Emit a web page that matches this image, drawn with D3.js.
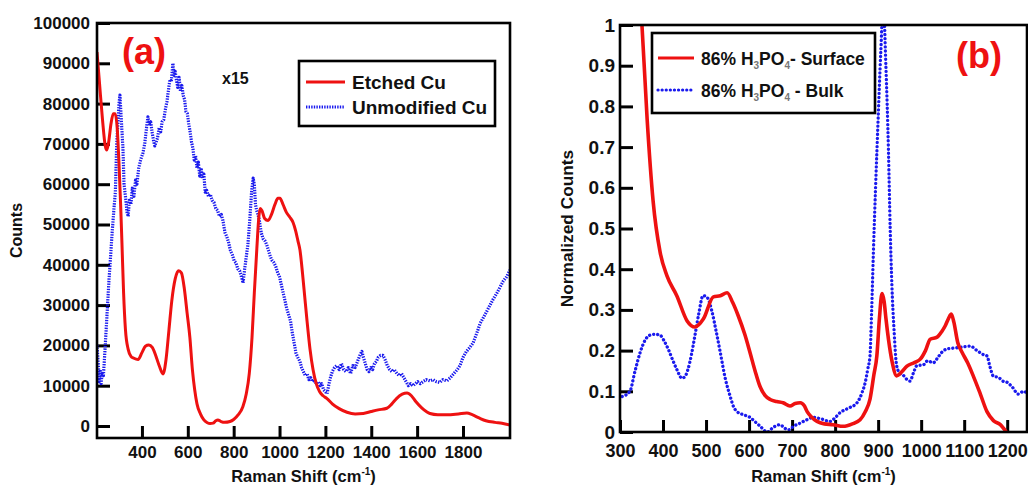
<!DOCTYPE html>
<html lang="en">
<head>
<meta charset="UTF-8">
<title>Raman spectra</title>
<script src="https://cdn.jsdelivr.net/npm/d3@7"></script>
<style>
  body { margin: 0; background: #fff; font-family: "Liberation Sans", Arial, sans-serif; }
  svg text { font-weight: bold; fill: #111; }
  .tick line { stroke: #000; stroke-width: 3; }
  .frame { fill: none; stroke: #000; stroke-width: 2.6; }
</style>
</head>
<body>
<svg id="chart" width="1028" height="487"></svg>
<script>
// panel (a): Raman shift (cm-1) and counts
const etchedX = [204,215,228,240,247,255,265,275,283,292,300,307,313,320,328,340,352,365,383,400,415,430,445,460,475,492,505,518,530,545,560,572,585,597,609,620,630,640,655,670,685,697,710,722,731,745,760,784,800,820,840,855,868,880,890,901,910,916,923,935,950,965,980,993,1002,1015,1030,1045,1059,1070,1080,1089,1100,1110,1120,1133,1146,1160,1175,1190,1207,1230,1260,1294,1330,1365,1400,1430,1468,1490,1510,1535,1556,1575,1595,1620,1640,1656,1690,1730,1780,1817,1840,1870,1900,1940,1970,2005];
const etchedY = [92800,85000,76000,69500,68500,70500,75000,77500,77500,74000,65000,55000,45000,33000,24000,19000,17300,16800,16500,18200,19800,20100,19500,17500,15000,12900,16500,24000,31000,36500,38500,38000,34000,28000,22000,14000,9000,5500,3000,1500,800,600,700,1300,1500,1100,900,1100,1600,2800,4800,8000,13000,22000,33000,44000,52000,54000,53500,51500,51000,52500,55000,56500,56500,55000,53000,51800,50500,48500,46000,43700,38000,32000,26000,19000,14000,10500,8500,7500,6800,5500,4300,3400,3000,3100,3600,4000,4400,5500,6800,7900,8200,7500,6000,4500,3600,3100,2800,2800,3000,3200,2800,2000,1300,900,700,250];

const unmodX = [204,210,214,218,222,226,232,240,248,256,262,270,278,284,290,296,300,304,308,312,317,322,326,330,335,340,345,352,358,365,372,378,386,394,404,412,420,426,432,438,444,450,456,462,468,475,482,488,495,502,509,516,522,528,535,540,545,550,556,562,568,574,580,586,592,598,604,610,616,622,628,634,640,646,652,658,664,670,676,682,690,698,706,714,722,730,738,746,753,762,770,778,786,794,802,810,818,826,834,841,848,855,862,870,878,885,890,895,900,906,912,920,928,936,944,952,960,968,976,984,992,1000,1008,1016,1024,1032,1040,1048,1056,1064,1072,1080,1089,1096,1104,1112,1120,1128,1136,1144,1152,1160,1168,1176,1184,1192,1200,1207,1214,1222,1230,1240,1250,1260,1270,1280,1290,1300,1310,1320,1330,1340,1350,1359,1366,1374,1382,1390,1398,1406,1414,1422,1430,1440,1451,1460,1470,1480,1490,1500,1512,1522,1532,1542,1552,1562,1572,1582,1592,1602,1614,1626,1640,1656,1670,1684,1698,1712,1730,1745,1760,1775,1787,1800,1815,1830,1844,1860,1875,1890,1904,1918,1932,1948,1962,1976,1990,2005];
const unmodY = [20100,15000,11000,14000,10500,13000,12500,20000,28000,36000,41000,48000,54000,58000,70000,76000,80000,82100,78000,74000,69000,60000,58000,56000,53000,52000,56000,55000,59000,57000,61000,60000,64000,66000,67700,70000,74000,76700,75000,75500,73000,71000,69500,70500,71500,74000,73000,75500,76000,78500,80500,83500,86000,85500,90000,87000,88000,86000,84000,86500,83000,84500,82000,81000,78000,77500,75000,73000,70500,69000,66000,67000,64000,65500,62000,64000,61500,62500,58000,58500,57000,57500,56000,55500,54000,53500,52000,52500,51000,48000,47000,45500,43500,42500,41000,40500,39000,38500,37000,35500,39000,42000,45000,51000,58000,61500,60000,55000,53500,52500,51000,48000,46500,46000,45000,43500,42000,41000,40500,39500,38000,37000,35000,33000,31000,29000,27500,26000,23000,20500,18000,17000,16000,14500,13500,12500,13000,11500,12000,11000,11500,10500,11000,10000,10500,9000,8500,8000,10000,12000,13500,14500,15000,14000,15500,14000,13500,14500,13000,15000,14500,16000,17500,18500,17000,15500,14000,13500,14500,14000,15500,16000,17000,17500,17500,16500,15000,14000,13500,14000,13000,12500,13000,12000,11000,10000,10500,10000,10500,11000,10500,11000,11500,11200,11500,11000,10800,11500,11200,12000,13000,14000,15000,17000,18500,19500,20600,23000,25500,27000,28500,30000,31500,33000,34500,36000,37000,38700];

// panel (b): normalized counts
const surfX = [340,351,363,377,393,409,432,456,474,494,517,533,549,562,575,590,602,614,625,637,649,664,679,695,707,719,728,735,745,758,775,795,819,840,858,870,881,890,897,903,909,914,918,924,933,943,955,967,983,998,1010,1021,1037,1048,1056,1064,1070,1076,1085,1095,1108,1121,1137,1153,1168,1184,1198];
const surfY = [1.15,1.0,0.77,0.567,0.443,0.384,0.335,0.273,0.258,0.278,0.332,0.335,0.342,0.318,0.285,0.24,0.196,0.15,0.113,0.09,0.08,0.075,0.072,0.064,0.07,0.072,0.065,0.05,0.037,0.026,0.02,0.018,0.014,0.02,0.03,0.05,0.08,0.14,0.187,0.28,0.34,0.32,0.28,0.228,0.17,0.138,0.148,0.162,0.17,0.179,0.2,0.228,0.233,0.247,0.261,0.28,0.29,0.27,0.22,0.196,0.17,0.138,0.095,0.05,0.028,0.018,0];

const bulkX = [305,323,335,347,358,370,382,393,402,412,422,432,444,452,458,466,474,483,493,503,514,523,533,545,556,564,572,588,602,614,626,642,657,672,682,691,705,719,734,749,768,788,800,812,830,851,862,870,876,881,885,889,894,900,906,912,918,924,928,932,937,943,950,958,966,974,982,990,1005,1015,1028,1040,1050,1060,1075,1091,1105,1114,1130,1145,1153,1160,1168,1180,1190,1200,1212,1226,1238,1246];
const bulkY = [0.087,0.1,0.15,0.196,0.225,0.238,0.24,0.238,0.225,0.204,0.178,0.154,0.132,0.138,0.154,0.19,0.236,0.29,0.335,0.33,0.295,0.25,0.196,0.13,0.088,0.062,0.05,0.042,0.036,0.025,0.014,0.0,0.012,0.018,0.01,0.005,0.015,0.022,0.03,0.036,0.032,0.026,0.035,0.048,0.058,0.072,0.095,0.122,0.155,0.187,0.3,0.443,0.6,0.77,0.93,1.05,0.9,0.69,0.5,0.36,0.25,0.163,0.145,0.14,0.13,0.125,0.145,0.163,0.165,0.175,0.17,0.185,0.198,0.204,0.206,0.208,0.21,0.211,0.2,0.19,0.187,0.16,0.137,0.134,0.125,0.122,0.11,0.093,0.1,0.095];

const ticksA_x = [400,600,800,1000,1200,1400,1600,1800];
const ticksA_y = [0,10000,20000,30000,40000,50000,60000,70000,80000,90000,100000];
const ticksB_x = [300,400,500,600,700,800,900,1000,1100,1200];
const ticksB_y = [0,0.1,0.2,0.3,0.4,0.5,0.6,0.7,0.8,0.9,1];

const svg = d3.select("#chart");
const RED = "#ee1111", BLUE = "#1a1aee";

function panel(o) {
  const x = d3.scaleLinear().domain(o.xdom).range([o.left, o.right]);
  const y = d3.scaleLinear().domain(o.ydom).range([o.bottom, o.top]);
  const g = svg.append("g");

  g.append("clipPath").attr("id", o.id + "clip")
    .append("rect").attr("x", o.left).attr("y", o.top)
    .attr("width", o.right - o.left).attr("height", o.bottom - o.top);

  const xa = g.append("g").attr("transform", `translate(0,${o.bottom})`)
    .call(d3.axisBottom(x).tickValues(o.xticks).tickSizeInner(-12).tickSizeOuter(0)
      .tickPadding(o.xpad).tickFormat(d3.format("d")));
  const ya = g.append("g").attr("transform", `translate(${o.left},0)`)
    .call(d3.axisLeft(y).tickValues(o.yticks).tickSizeInner(-13).tickSizeOuter(0)
      .tickPadding(o.ypad).tickFormat(o.yfmt));
  [xa, ya].forEach(a => {
    a.select(".domain").remove();
    a.selectAll("text").attr("font-size", o.tickFont).attr("fill", "#111");
  });
  xa.selectAll("text").attr("font-size", o.xtickFont);

  const plot = g.append("g").attr("clip-path", `url(#${o.id}clip)`);
  o.series.forEach(s => {
    const pts = s.xs.map((d, i) => [d, s.ys[i]]);
    plot.append("path").datum(pts)
      .attr("fill", "none").attr("stroke", s.color).attr("stroke-width", s.width)
      .attr("stroke-dasharray", s.dash || null).attr("stroke-linecap", s.cap || "butt")
      .attr("stroke-linejoin", "round")
      .attr("d", d3.line().x(d => x(d[0])).y(d => y(d[1])).curve(s.curve));
  });

  g.append("rect").attr("class", "frame").attr("x", o.left).attr("y", o.top)
    .attr("width", o.right - o.left).attr("height", o.bottom - o.top);

  // x title with superscript
  const xt = g.append("text").attr("x", (o.left + o.right) / 2).attr("y", 482)
    .attr("text-anchor", "middle").attr("font-size", 16.5);
  xt.append("tspan").text("Raman Shift (cm");
  xt.append("tspan").attr("font-size", 10).attr("dy", -7).text("-1");
  xt.append("tspan").attr("dy", 7).text(")");

  g.append("text").attr("transform", `translate(${o.ytx},${(o.top + o.bottom) / 2}) rotate(-90)`)
    .attr("text-anchor", "middle").attr("font-size", o.ytFont).text(o.ytitle);

  return { g, x, y };
}

const a = panel({
  id: "a", left: 97, right: 510, top: 23, bottom: 438,
  xdom: [204, 2005], ydom: [-2980, 100000],
  xticks: ticksA_x, yticks: ticksA_y, xpad: 8, ypad: 7,
  yfmt: d3.format("d"), tickFont: 17, xtickFont: 17,
  ytitle: "Counts", ytx: 22, ytFont: 16,
  series: [
    { xs: unmodX, ys: unmodY, color: BLUE, width: 3.2, dash: "1.4 1.2", curve: d3.curveLinear },
    { xs: etchedX, ys: etchedY, color: RED, width: 3, curve: d3.curveMonotoneX }
  ]
});

const b = panel({
  id: "b", left: 620, right: 1027, top: 25, bottom: 432,
  xdom: [300, 1246], ydom: [0, 1],
  xticks: ticksB_x, yticks: ticksB_y, xpad: 12, ypad: 5,
  yfmt: d => d === 0 ? "0" : d === 1 ? "1" : d3.format(".1f")(d), tickFont: 19, xtickFont: 18,
  ytitle: "Normalized Counts", ytx: 573, ytFont: 17.3,
  series: [
    { xs: bulkX, ys: bulkY, color: BLUE, width: 3.3, dash: "0.1 4", cap: "round", curve: d3.curveMonotoneX },
    { xs: surfX, ys: surfY, color: RED, width: 3.6, curve: d3.curveMonotoneX }
  ]
});

// panel labels and notes
a.g.append("text").attr("x", 122).attr("y", 64).attr("font-size", 36).style("fill", RED).text("(a)");
a.g.append("text").attr("x", 222).attr("y", 84).attr("font-size", 16).text("x15");
b.g.append("text").attr("x", 956).attr("y", 68).attr("font-size", 36).style("fill", RED).text("(b)");

// legend (a)
const la = a.g.append("g");
la.append("rect").attr("class", "frame").attr("x", 299).attr("y", 61).attr("width", 196).attr("height", 65);
[["Etched Cu", RED, null, 82], ["Unmodified Cu", BLUE, "1.4 1.2", 107]].forEach(([t, c, dash, yy]) => {
  la.append("line").attr("x1", 306).attr("x2", 345).attr("y1", yy).attr("y2", yy)
    .attr("stroke", c).attr("stroke-width", 3).attr("stroke-dasharray", dash);
  la.append("text").attr("x", 352).attr("y", yy + 6.5).attr("font-size", 19).text(t);
});

// legend (b)
const lb = b.g.append("g");
lb.append("rect").attr("class", "frame").attr("x", 652).attr("y", 33).attr("width", 223).attr("height", 80);
[[["86% H", "3", "PO", "4", "- Surface"], RED, null, 58],
 [["86% H", "3", "PO", "4", " - Bulk"], BLUE, "0.1 4", 90]].forEach(([parts, c, dash, yy]) => {
  lb.append("line").attr("x1", 658).attr("x2", 694).attr("y1", yy).attr("y2", yy)
    .attr("stroke", c).attr("stroke-width", 3.2).attr("stroke-dasharray", dash)
    .attr("stroke-linecap", dash ? "round" : "butt");
  const t = lb.append("text").attr("x", 701).attr("y", yy + 7).attr("font-size", 17.5);
  parts.forEach((p, i) => {
    const sub = i === 1 || i === 3;
    t.append("tspan").text(p)
      .attr("font-size", sub ? 10 : null)
      .attr("dy", sub ? 4 : (i === 0 ? 0 : -4))
      .style("fill", sub ? "#777" : null);
  });
});
</script>
</body>
</html>
